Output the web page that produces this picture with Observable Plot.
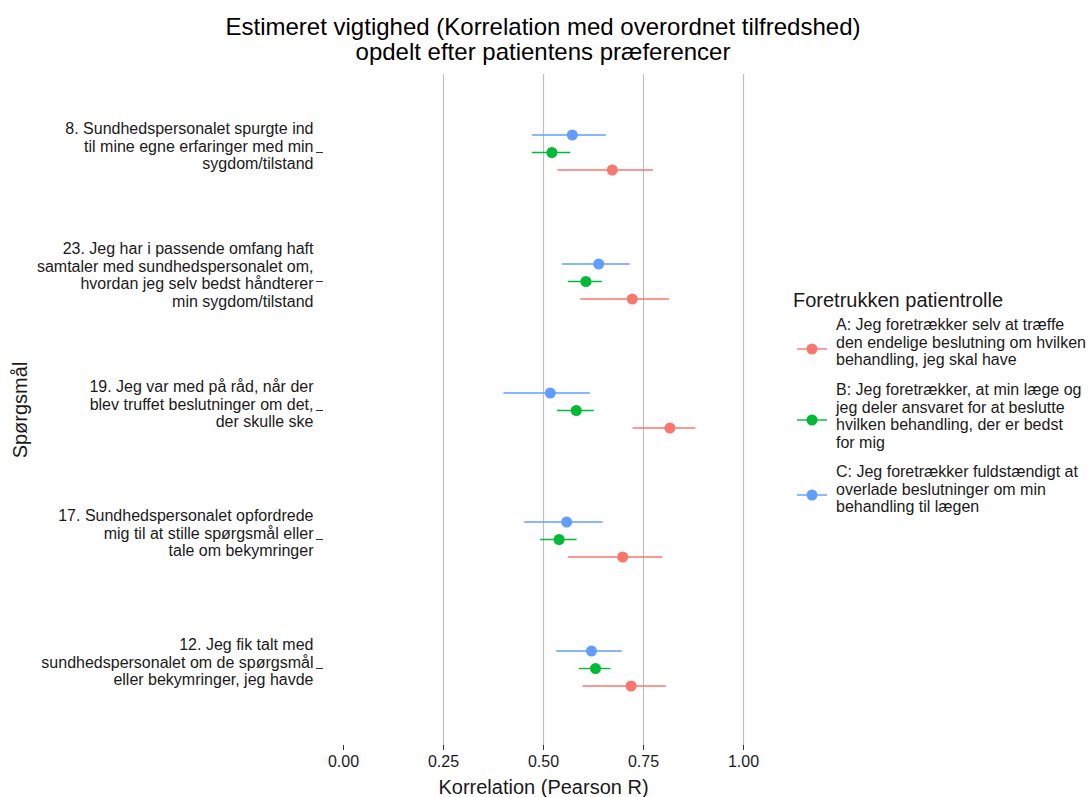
<!DOCTYPE html>
<html>
<head>
<meta charset="utf-8">
<script src="https://cdn.jsdelivr.net/npm/d3@7"></script>
<script src="https://cdn.jsdelivr.net/npm/@observablehq/plot@0.6"></script>
<style>
  body { margin: 0; background: #fff; font-family: "Liberation Sans", Arial, sans-serif; color: #1a1a1a; }
  #wrap { position: relative; width: 1089px; height: 797px; overflow: hidden; }
  #title { position: absolute; left: 0; top: 14px; width: 1086px; text-align: center; font-size: 24px; line-height: 25px; color: #000; }
  #chart { position: absolute; left: 0; top: 70px; }
  #legend-title { position: absolute; left: 793px; top: 289px; font-size: 20px; line-height: 22px; white-space: nowrap; }
  .lg-text { position: absolute; left: 836px; font-size: 16px; line-height: 17.5px; white-space: pre; }
  .lg-key { position: absolute; left: 796px; width: 32px; height: 14px; }
</style>
</head>
<body>
<div id="wrap">
  <div id="title"></div>
  <div id="chart"></div>
  <div id="legend-title"></div>
</div>
<script>
// ---- Data ----
const titleLines = ["Estimeret vigtighed (Korrelation med overordnet tilfredshed)", "opdelt efter patientens præferencer"];
const xLabel = "Korrelation (Pearson R)";
const yLabel = "Spørgsmål";
const legendTitle = "Foretrukken patientrolle";

const questions = [
  "8. Sundhedspersonalet spurgte ind\ntil mine egne erfaringer med min\nsygdom/tilstand",
  "23. Jeg har i passende omfang haft\nsamtaler med sundhedspersonalet om,\nhvordan jeg selv bedst håndterer\nmin sygdom/tilstand",
  "19. Jeg var med på råd, når der\nblev truffet beslutninger om det,\nder skulle ske",
  "17. Sundhedspersonalet opfordrede\nmig til at stille spørgsmål eller\ntale om bekymringer",
  "12. Jeg fik talt med\nsundhedspersonalet om de spørgsmål\neller bekymringer, jeg havde"
];

const groups = ["A", "B", "C"];
const groupLabels = [
  "A: Jeg foretrækker selv at træffe\nden endelige beslutning om hvilken\nbehandling, jeg skal have",
  "B: Jeg foretrækker, at min læge og\njeg deler ansvaret for at beslutte\nhvilken behandling, der er bedst\nfor mig",
  "C: Jeg foretrækker fuldstændigt at\noverlade beslutninger om min\nbehandling til lægen"
];
const groupColors = ["#F8766D", "#00BA38", "#619CFF"];

const estA  = [0.672, 0.722, 0.816, 0.698, 0.719];
const lowA  = [0.536, 0.593, 0.724, 0.562, 0.599];
const highA = [0.775, 0.815, 0.881, 0.798, 0.807];

const estB  = [0.521, 0.606, 0.582, 0.539, 0.630];
const lowB  = [0.472, 0.562, 0.535, 0.493, 0.590];
const highB = [0.568, 0.647, 0.627, 0.584, 0.669];

const estC  = [0.572, 0.638, 0.517, 0.558, 0.620];
const lowC  = [0.473, 0.547, 0.401, 0.453, 0.533];
const highC = [0.657, 0.717, 0.617, 0.649, 0.697];

const xTicks = [0, 0.25, 0.5, 0.75, 1];
const gridValues = [0.25, 0.5, 0.75, 1];

// ---- Build table ----
const series = {A: [estA, lowA, highA], B: [estB, lowB, highB], C: [estC, lowC, highC]};
const rows = [];
groups.forEach(g => {
  const [e, l, h] = series[g];
  questions.forEach((q, i) => rows.push({q, g, est: e[i], lo: l[i], hi: h[i]}));
});
const dodge = {A: 17.5, B: 0, C: -17.5};

const font = '"Liberation Sans", Arial, sans-serif';

const groupMarks = groups.flatMap(g => {
  const d = rows.filter(r => r.g === g);
  return [
    Plot.ruleY(d, {y: "q", x1: "lo", x2: "hi", stroke: "g", strokeWidth: 1.4, dy: dodge[g]}),
    Plot.dot(d, {x: "est", y: "q", fill: "g", r: 5.5, dy: dodge[g]})
  ];
});

const chart = Plot.plot({
  width: 770,
  height: 727,
  marginLeft: 323,
  marginRight: 7,
  marginTop: 4,
  marginBottom: 52,
  style: {fontFamily: font, fontSize: "16px", color: "#1a1a1a", background: "#fff", overflow: "visible"},
  x: {domain: [-0.05, 1.05]},
  y: {type: "point", domain: questions, padding: 0.6},
  color: {domain: groups, range: groupColors},
  marks: [
    Plot.ruleX(gridValues, {stroke: "#bebebe", strokeWidth: 1.2}),
    Plot.axisX({ticks: xTicks, tickFormat: d3.format(".2f"), tickSize: 5, tickPadding: 5, stroke: "#333", label: null, fontSize: 16}),
    Plot.axisY({tickSize: 7, tickFormat: () => "", stroke: "#333", label: null}),
    Plot.axisY({tickSize: 0, tickPadding: 10, lineHeight: 1.1, dy: -6.5, label: null, fontSize: 16}),
    Plot.text([xLabel], {frameAnchor: "bottom", dy: 42, lineAnchor: "middle", textAnchor: "middle", fontSize: 20}),
    Plot.text([yLabel], {frameAnchor: "left", dx: -303, rotate: -90, lineAnchor: "middle", textAnchor: "middle", fontSize: 20}),
    ...groupMarks
  ]
});
document.getElementById("chart").appendChild(chart);

// ---- Title & legend ----
document.getElementById("title").innerHTML = titleLines.join("<br>");
document.getElementById("legend-title").textContent = legendTitle;

const wrap = document.getElementById("wrap");
const textTops = [316, 381, 463];
const keyCenters = [349, 420, 495];
groups.forEach((g, i) => {
  const t = document.createElement("div");
  t.className = "lg-text";
  t.style.top = textTops[i] + "px";
  t.textContent = groupLabels[i];
  wrap.appendChild(t);
  const k = document.createElementNS("http://www.w3.org/2000/svg", "svg");
  k.setAttribute("class", "lg-key");
  k.setAttribute("viewBox", "0 0 32 14");
  k.style.top = (keyCenters[i] - 7) + "px";
  k.innerHTML = `<line x1="1" x2="31" y1="7" y2="7" stroke="${groupColors[i]}" stroke-width="1.4"/><circle cx="16" cy="7" r="5.5" fill="${groupColors[i]}"/>`;
  wrap.appendChild(k);
});
</script>
</body>
</html>
